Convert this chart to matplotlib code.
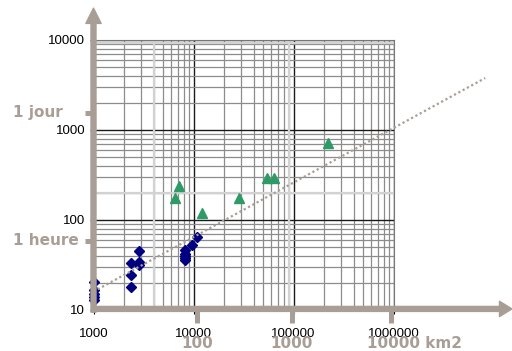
import matplotlib
matplotlib.use("Agg")
import matplotlib.pyplot as plt
from matplotlib.ticker import LogLocator, NullFormatter, FixedLocator

plt.rcParams['font.family'] = ['Liberation Sans', 'DejaVu Sans']

BROWN = '#a89e96'
NAVY = '#000080'
GREEN = '#2e9b66'

# bassins : surface (ha) et temps (min)
blue_x = [1000, 1000, 1000, 1000, 1000, 2380, 2380, 2380, 2820, 2820, 2820,
          8260, 8260, 8260, 8260, 8260, 9640, 10800]
blue_y = [20.6, 16.5, 15, 14, 13, 33, 24.5, 17.9, 45.6, 34.4, 31.6,
          46, 42, 40, 38, 35.7, 52.7, 65.3]
green_x = [6460, 7200, 12100, 28200, 54200, 64100, 221000]
green_y = [174, 239, 118.6, 174, 290, 290, 722]

# droite d'ajustement (extrémités)
fit_x = [1000, 8.26e6]
fit_y = [16, 3780]

yticks = [10, 100, 1000, 10000]
xticks = [1000, 10000, 100000, 1000000]
xtick_labels = ['1000', '10000', '100000', '1000000']

# repères en unités secondaires
time_marks = [1550, 59]
time_labels = ['1 jour', '1 heure']
area_marks = [10770, 95500, 942000]
area_labels = ['100', '1000', '10000 km2']

fig = plt.figure(figsize=(5.12, 3.51), dpi=100)
ax = fig.add_axes([93.5 / 512, 41 / 351, 300 / 512, 270 / 351])
ax.set_xscale('log')
ax.set_yscale('log')
ax.set_xlim(1000, 1e6)
ax.set_ylim(10, 10000)

# grille
ax.xaxis.set_minor_locator(LogLocator(base=10, subs=range(2, 10)))
ax.yaxis.set_minor_locator(LogLocator(base=10, subs=range(2, 10)))
ax.xaxis.set_minor_formatter(NullFormatter())
ax.yaxis.set_minor_formatter(NullFormatter())
ax.grid(True, which='minor', color='#8c8c8c', lw=0.9)
ax.grid(True, which='major', color='#1a1a1a', lw=1.0)
for v in [4000, 90600]:
    ax.axvline(v, color='#d2d2d2', lw=1.6, zorder=0.6)
for v in [200, 9300]:
    ax.axhline(v, color='#d2d2d2', lw=1.6, zorder=0.6)
ax.set_axisbelow(True)

ax.xaxis.set_major_locator(FixedLocator(xticks))
ax.set_xticklabels(xtick_labels)
ax.yaxis.set_major_locator(FixedLocator(yticks))
ax.set_yticklabels([str(v) for v in yticks])
ax.tick_params(which='minor', length=0)
ax.tick_params(axis='y', which='major', length=3, width=0.8, pad=3, labelsize=9.5)
ax.tick_params(axis='x', which='major', length=3, width=0.8, pad=10, labelsize=9.5)

for s in ['top', 'right']:
    ax.spines[s].set_color('#777777')
for s in ['left', 'bottom']:
    ax.spines[s].set_visible(False)

# données
ax.plot(blue_x, blue_y, 'D', color=NAVY, ms=5.2, mec=NAVY, clip_on=False, zorder=4)
ax.plot(green_x, green_y, '^', color=GREEN, ms=7, mec=GREEN, clip_on=False, zorder=4)
ax.plot(fit_x, fit_y, color=BROWN, lw=1.6, ls=(0, (1, 1.2)), clip_on=False, zorder=5)

# axes fléchés
ax.annotate('', xy=(0, 1.118), xytext=(0, -0.008), xycoords='axes fraction',
            arrowprops=dict(width=3.6, headwidth=11, headlength=11, color=BROWN,
                            shrink=0), zorder=6, annotation_clip=False)
ax.annotate('', xy=(1.395, 0.004), xytext=(-0.005, 0.004), xycoords='axes fraction',
            arrowprops=dict(width=3.6, headwidth=11, headlength=9, color=BROWN,
                            shrink=0), zorder=6, annotation_clip=False)

bold = dict(color=BROWN, fontsize=11, fontweight='bold', family='DejaVu Sans')

# repères temps (axe y)
ytr = ax.get_yaxis_transform()
for v, lab in zip(time_marks, time_labels):
    ax.plot([-0.028, 0], [v, v], color=BROWN, lw=3.6, transform=ytr,
            clip_on=False, zorder=6, solid_capstyle='butt')
    ax.annotate(lab, xy=(0, v), xycoords=ytr, xytext=(-80.5 * 0.72, 0),
                textcoords='offset points', ha='left', va='center', **bold)

# repères surface (axe x)
xtr = ax.get_xaxis_transform()
for v, lab in zip(area_marks, area_labels):
    ax.plot([v, v], [0, -0.048], color=BROWN, lw=3.6, transform=xtr,
            clip_on=False, zorder=6, solid_capstyle='butt')
    if lab.endswith('km2'):
        ax.annotate(lab, xy=(v, 0), xycoords=xtr, xytext=(-24 * 0.72, -33 * 0.72),
                    textcoords='offset points', ha='left', va='center', **bold)
    else:
        ax.annotate(lab, xy=(v, 0), xycoords=xtr, xytext=(0, -33 * 0.72),
                    textcoords='offset points', ha='center', va='center', **bold)

fig.savefig('out.png', dpi=100)
